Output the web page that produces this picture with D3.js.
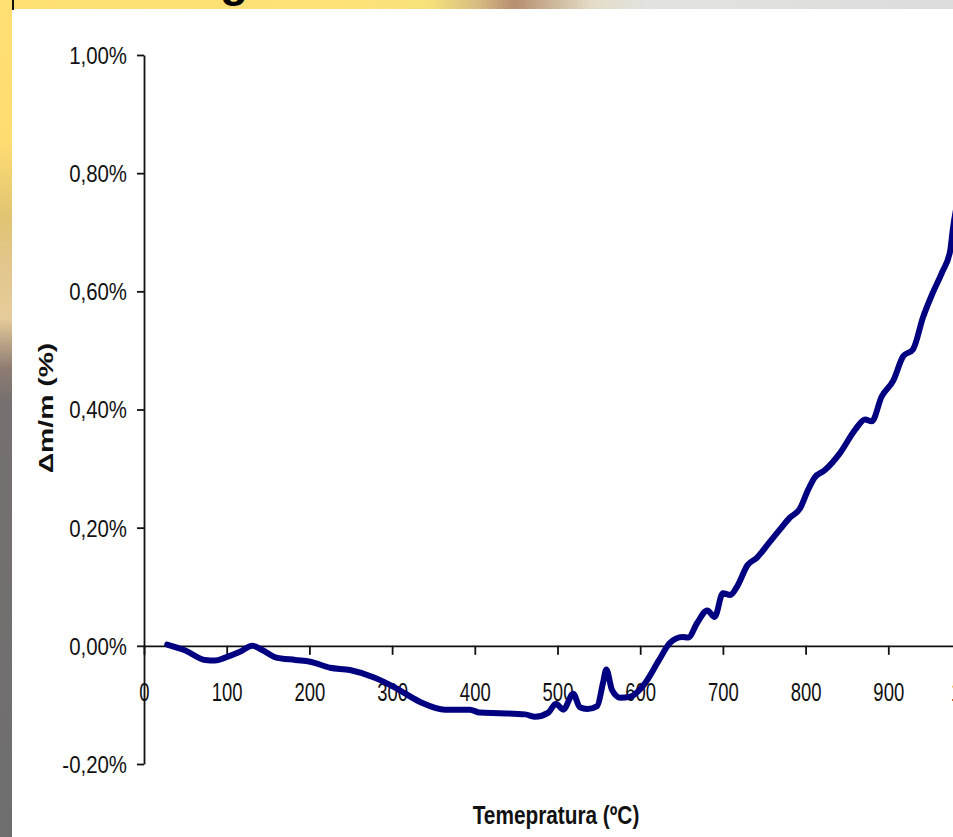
<!DOCTYPE html>
<html>
<head>
<meta charset="utf-8">
<script src="https://cdn.jsdelivr.net/npm/d3@7"></script>
<style>
  html, body { margin: 0; padding: 0; background: #fff; }
  svg { display: block; }
</style>
</head>
<body>
<svg id="chart" width="953" height="837"></svg>
<script>
// Thermogravimetric curve: mass change vs temperature
const temperature = [28, 50, 74, 86, 98, 116, 131, 143, 158, 183, 201, 225, 249, 279, 304, 334, 364, 394, 406, 430,
  461, 473, 489, 498, 507, 519, 527, 536, 548, 555, 559, 566, 576, 588, 606, 622, 636, 651, 658, 669,
  681, 690, 700, 709, 717, 730, 741, 755, 769, 781, 793, 803, 811, 823, 842, 860, 872, 880, 892, 906,
  918, 930, 942, 953, 965, 975, 978, 985];
const massChange = [0.002, -0.008, -0.024, -0.025, -0.020, -0.010, 0.000, -0.007, -0.019, -0.024, -0.027, -0.037, -0.041, -0.054, -0.071, -0.095, -0.108, -0.108, -0.113, -0.114,
  -0.116, -0.120, -0.113, -0.098, -0.108, -0.081, -0.104, -0.107, -0.102, -0.063, -0.040, -0.075, -0.088, -0.086, -0.063, -0.026, 0.005, 0.015, 0.014, 0.039,
  0.060, 0.049, 0.089, 0.086, 0.100, 0.137, 0.149, 0.173, 0.197, 0.217, 0.232, 0.264, 0.285, 0.297, 0.327, 0.366, 0.383, 0.380, 0.422, 0.449,
  0.490, 0.502, 0.556, 0.595, 0.632, 0.670, 0.705, 0.76];
const xTicks = [0, 100, 200, 300, 400, 500, 600, 700, 800, 900, 1000];
const yTicks = [-0.2, 0, 0.2, 0.4, 0.6, 0.8, 1.0];
const xTitle = "Temepratura (ºC)";
const yTitle = "Δm/m (%)";
const headerText = "g";

const svg = d3.select("#chart");
const W = 953, H = 837;
const font = "'Liberation Sans', Arial, sans-serif";
const ink = "#111";

// slide decoration: top band and left strip
const defs = svg.append("defs");
const topGrad = defs.append("linearGradient").attr("id", "topBand").attr("x1", 0).attr("x2", 1).attr("y1", 0).attr("y2", 0);
[[0, "#FFDF72"], [0.38, "#FDE277"], [0.45, "#F6E27A"], [0.5, "#D8BE82"], [0.54, "#B68E70"], [0.58, "#CDB69A"], [0.62, "#E4DCC6"], [0.68, "#E2E2E0"], [1, "#DCDCDC"]]
  .forEach(([o, c]) => topGrad.append("stop").attr("offset", o).attr("stop-color", c));
const leftGrad = defs.append("linearGradient").attr("id", "leftBand").attr("x1", 0).attr("x2", 0).attr("y1", 0).attr("y2", 1);
[[0, "#FFDE72"], [0.17, "#FFDC72"], [0.26, "#E0C472"], [0.32, "#E2C68E"], [0.38, "#E6CC9A"], [0.44, "#8E7C72"], [0.48, "#767070"], [1, "#6E6E6E"]]
  .forEach(([o, c]) => leftGrad.append("stop").attr("offset", o).attr("stop-color", c));

svg.append("rect").attr("x", 0).attr("y", 0).attr("width", W).attr("height", H).attr("fill", "#fff");
svg.append("rect").attr("x", 0).attr("y", 0).attr("width", W).attr("height", 9).attr("fill", "url(#topBand)");
svg.append("rect").attr("x", 0).attr("y", 0).attr("width", 12).attr("height", H).attr("fill", "url(#leftBand)");
svg.append("line").attr("x1", 13).attr("x2", 13).attr("y1", 0).attr("y2", 10).attr("stroke", ink).attr("stroke-width", 2);
svg.append("text").attr("x", 234).attr("y", -4).attr("text-anchor", "middle")
  .attr("font-family", font).attr("font-weight", "bold").attr("font-size", 46).attr("fill", "#000")
  .text(headerText);

// scales
const x = d3.scaleLinear().domain([0, 1000]).range([144, 971]);
const y = d3.scaleLinear().domain([-0.2, 1.0]).range([764, 55]);

const pct = d3.formatLocale({ decimal: ",", thousands: ".", grouping: [3], currency: ["", ""], minus: "-" }).format(".2f");

// y axis
const yAxis = svg.append("g").attr("transform", `translate(${x(0)},0)`)
  .call(d3.axisLeft(y).tickValues(yTicks).tickSize(7).tickSizeOuter(0).tickFormat(d => pct(d) + "%"));
yAxis.selectAll(".tick text")
  .attr("x", null).attr("dy", "0.35em")
  .attr("transform", "translate(-17,0) scale(0.85,1)")
  .attr("font-family", font).attr("font-size", 24).attr("fill", ink);

// x axis through zero
const xAxis = svg.append("g").attr("transform", `translate(0,${y(0)})`)
  .call(d3.axisBottom(x).tickValues(xTicks).tickSize(9).tickSizeOuter(0).tickFormat(d3.format("d")));
xAxis.selectAll(".tick text")
  .attr("y", null).attr("dy", null)
  .attr("transform", "translate(0,55) scale(0.74,1)")
  .attr("font-family", font).attr("font-size", 25).attr("fill", ink);
svg.selectAll(".tick line, .domain").attr("stroke", ink).attr("stroke-width", 1.8);

// axis titles
svg.append("text")
  .attr("transform", "translate(556,824) scale(0.8,1)")
  .attr("text-anchor", "middle")
  .attr("font-family", font).attr("font-weight", "bold").attr("font-size", 26).attr("fill", ink)
  .text(xTitle);
svg.append("text")
  .attr("transform", "translate(53,408) rotate(-90) scale(1.35,1)")
  .attr("text-anchor", "middle")
  .attr("font-family", font).attr("font-weight", "bold").attr("font-size", 21).attr("fill", ink)
  .text(yTitle);

// data line
const pts = temperature.map((t, i) => [t, massChange[i]]);
svg.append("path")
  .datum(pts)
  .attr("fill", "none")
  .attr("stroke", "#000080")
  .attr("stroke-width", 6)
  .attr("stroke-linejoin", "round")
  .attr("stroke-linecap", "round")
  .attr("d", d3.line().curve(d3.curveMonotoneX).x(d => x(d[0])).y(d => y(d[1])));
</script>
</body>
</html>
